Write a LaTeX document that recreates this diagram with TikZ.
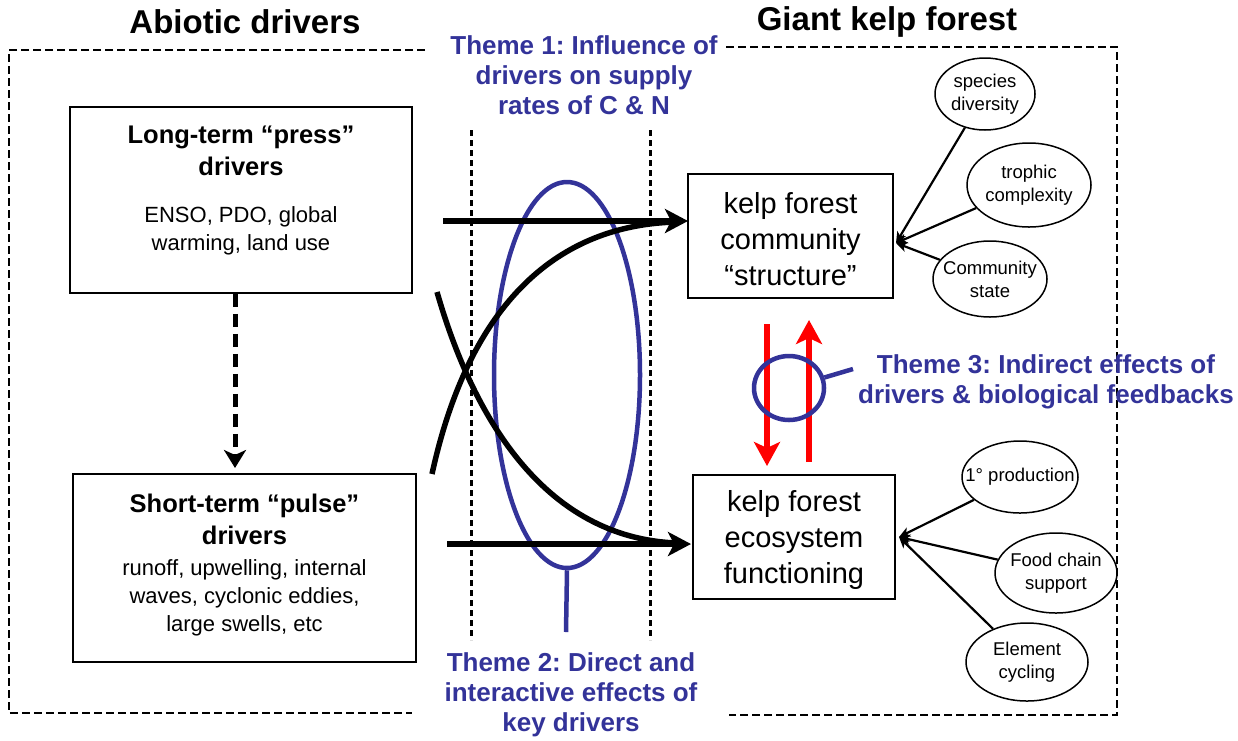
\documentclass[tikz,border=0pt]{standalone}
\usepackage{fontspec}
\setmainfont{Liberation Sans}
\usetikzlibrary{arrows.meta,shapes.geometric}
\definecolor{themeblue}{RGB}{51,51,153}
\definecolor{kred}{RGB}{255,0,0}
\frenchspacing
\begin{document}
\begin{tikzpicture}[x=1pt,y=-1pt,
  box/.style={draw, line width=1.6pt, fill=none, inner sep=0pt},
  titletext/.style={font=\fontsize{33}{36}\selectfont\bfseries},
  themetext/.style={font=\fontsize{26}{30}\selectfont\bfseries, text=themeblue, align=center},
  headtext/.style={font=\fontsize{25.5}{32}\selectfont\bfseries, align=center},
  bodytext/.style={font=\fontsize{22}{28}\selectfont, align=center},
  kelptext/.style={font=\fontsize{29}{36}\selectfont, align=center},
  oval/.style={draw, ellipse, line width=1.5pt, inner xsep=-20pt, inner ysep=-10pt, align=center, font=\fontsize{18.5}{23}\selectfont},
  border/.style={line width=2.8pt, dash pattern=on 8pt off 4pt},
  divider/.style={line width=3pt, dash pattern=on 6pt off 4pt},
  bigarrow/.style={line width=5.5pt, -{Stealth[length=23pt,width=24pt,inset=6pt]}},
  curvearrow/.style={line width=5.5pt},
  redarrow/.style={line width=5.5pt, draw=kred, -{Stealth[length=24pt,width=26pt,inset=6pt]}},
  thinarrow/.style={line width=2.2pt, -{Stealth[length=11pt,width=10pt,inset=3pt]}},
  themeline/.style={line width=4.5pt, draw=themeblue}
]
\useasboundingbox (0,0) rectangle (1238,740);

% titles
\node[titletext] (tabio) at (245,22) {Abiotic drivers};
\node[titletext] (tkelp) at (887,22) {Giant kelp forest};

% dashed borders
\draw[border] (425,50) -- (9,50) -- (9,713) -- (412,713);
\draw[border] (726,47) -- (1117,47) -- (1117,715) -- (729,715);

% theme texts
\node[themetext] (th1) at (584,75) {Theme 1: Influence of\\drivers on supply\\rates of C \& N};
\node[themetext] (th2) at (571,695) {Theme 2: Direct and\\interactive effects of\\key drivers};
\node[themetext] (th3) at (1046,382) {Theme 3: Indirect effects of\\drivers \& biological feedbacks};

% left boxes
\node[box, minimum width=342pt, minimum height=186pt] (press) at (241,200) {};
\node[headtext] (pressT) at (241,151) {Long-term “press”\\drivers};
\node[bodytext] (pressD) at (241,231) {ENSO, PDO, global\\warming, land use};

\node[box, minimum width=343pt, minimum height=188pt] (pulse) at (244.5,568) {};
\node[headtext] (pulseT) at (244.5,519) {Short-term “pulse”\\drivers};
\node[bodytext] (pulseD) at (244.5,598) {runoff, upwelling, internal\\waves, cyclonic eddies,\\large swells, etc};

\draw[line width=5pt, dash pattern=on 13pt off 7pt, -{Stealth[length=18pt,width=22pt,inset=5pt]}] (press.south -| 235,0) -- (235,468);

% dotted dividers
\draw[divider] (471,130) -- (471,640);
\draw[divider] (650,130) -- (650,640);

% right boxes
\node[box, minimum width=205pt, minimum height=124pt] (struct) at (790.5,236) {};
\node[kelptext] (structT) at (790.5,239) {kelp forest\\community\\“structure”};
\node[box, minimum width=202pt, minimum height=124pt] (func) at (794,537) {};
\node[kelptext] (funcT) at (794,540) {kelp forest\\ecosystem\\functioning};

% big blue ellipse
\node[draw=themeblue, line width=4.5pt, ellipse, minimum width=146pt, minimum height=386pt, inner sep=0pt] (bigell) at (567,375) {};
\coordinate (bigtail) at (566,632);
\draw[themeline] (bigell.south) -- (bigtail);

% black arrows
\coordinate (a1s) at (443,221);
\coordinate (a2s) at (447,544);
\coordinate (c1s) at (432,474);
\coordinate (c2s) at (437,292);
\coordinate (t1) at (688,221);
\coordinate (t2) at (691,544);
\draw[bigarrow] (a1s) -- (t1);
\draw[bigarrow] (a2s) -- (t2);
\draw[curvearrow] (c1s) .. controls (470,300) and (560,225) .. (676,222);
\draw[curvearrow] (c2s) .. controls (468,400) and (535,537) .. (676,543);

% red arrows
\coordinate (r1s) at (767,324);
\coordinate (r1e) at (767,466);
\coordinate (r2s) at (809,462);
\coordinate (r2e) at (809,320);
\draw[redarrow] (r1s) -- (r1e);
\draw[redarrow] (r2s) -- (r2e);

% blue circle
\node[draw=themeblue, line width=4.5pt, ellipse, minimum width=70pt, minimum height=64pt, inner sep=0pt] (circ) at (789,388) {};
\coordinate (circtail) at (853,369);
\draw[themeline] (circ) -- (circtail);

% ovals top
\node[oval, minimum width=100pt, minimum height=72pt] (sd) at (985,94) {species\\diversity};
\node[oval, minimum width=124pt, minimum height=84pt] (tc) at (1029,185) {trophic\\complexity};
\node[oval, minimum width=114pt, minimum height=76pt] (cs) at (990,279) {Community\\state};
\coordinate (sconv) at (896,243);
\draw[thinarrow] (sd) -- (sconv);
\draw[thinarrow] (tc) -- (sconv);
\draw[thinarrow] (cs) -- (sconv);

% ovals bottom
\node[oval, minimum width=116pt, minimum height=72pt] (pp) at (1020,477) {1° production};
\node[oval, minimum width=122pt, minimum height=80pt] (fc) at (1056,573) {Food chain\\support};
\node[oval, minimum width=122pt, minimum height=78pt] (ec) at (1027,662) {Element\\cycling};
\coordinate (fconv) at (899,537);
\draw[thinarrow] (pp) -- (fconv);
\draw[thinarrow] (fc) -- (fconv);
\draw[thinarrow] (ec) -- (fconv);
\end{tikzpicture}
\end{document}
